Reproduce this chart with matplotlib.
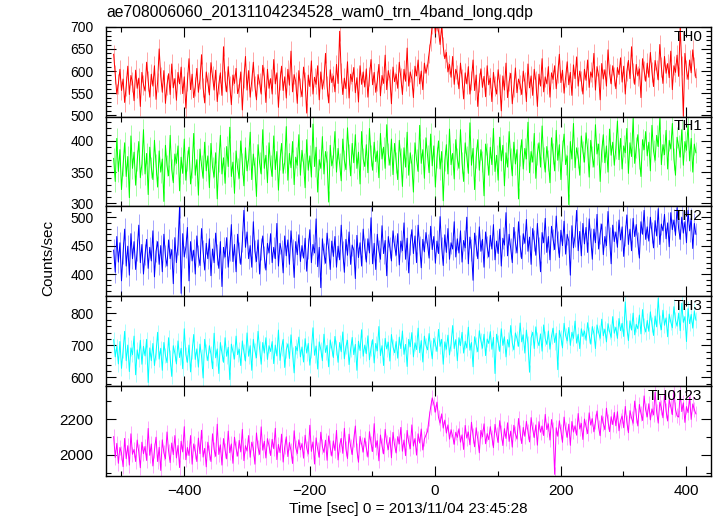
import numpy as np
import matplotlib
matplotlib.use("Agg")
import matplotlib.pyplot as plt
from matplotlib.ticker import MultipleLocator

plt.rcParams['font.family'] = ['Liberation Sans', 'DejaVu Sans']

TITLE = "ae708006060_20131104234528_wam0_trn_4band_long.qdp"
XLABEL = "Time [sec] 0 = 2013/11/04 23:45:28"
YLABEL = "Counts/sec"

# time bins (sec), 2.5 s apart
time = np.arange(-512, 416, 2.5)

th0 = [638, 592, 548, 571, 604, 556, 582, 529, 566, 611, 547, 590, 575, 533, 602, 561, 584, 520, 597, 569,
       555, 620, 578, 541, 593, 566, 612, 536, 574, 650, 588, 552, 601, 527, 569, 594, 547, 616, 562, 583,
       534, 597, 571, 609, 549, 587, 516, 576, 628, 558, 593, 540, 565, 606, 552, 581, 637, 563, 528, 598,
       575, 546, 619, 589, 557, 602, 531, 570, 596, 545, 655, 578, 553, 610, 566, 524, 591, 572, 606, 549,
       563, 598, 512, 584, 633, 557, 601, 541, 578, 620, 566, 535, 592, 574, 548, 613, 587, 529, 604, 561,
       583, 548, 626, 571, 596, 518, 579, 611, 556, 587, 539, 604, 568, 645, 553, 592, 576, 527, 601, 563,
       542, 609, 577, 505, 591, 565, 623, 548, 586, 570, 612, 535, 598, 559, 581, 640, 566, 528, 603, 574,
       589, 553, 615, 572, 690, 596, 547, 584, 560, 621, 539, 593, 576, 608, 551, 585, 530, 612, 570, 598,
       564, 605, 541, 588, 626, 569, 597, 552, 578, 615, 544, 590, 572, 636, 558, 601, 583, 526, 609, 576,
       593, 561, 620, 585, 547, 604, 577, 652, 566, 598, 582, 540, 611, 589, 625, 571, 600, 558, 618, 595,
       612, 640, 668, 705, 730, 685, 712, 690, 660, 702, 655, 628, 642, 598, 615, 586, 633, 570, 604, 592,
       560, 618, 583, 537, 596, 571, 610, 548, 579, 625, 556, 591, 520, 574, 605, 563, 588, 542, 612, 569,
       584, 531, 597, 566, 548, 603, 572, 510, 589, 557, 618, 540, 576, 595, 526, 563, 607, 551, 582, 569,
       547, 600, 575, 531, 616, 562, 589, 545, 604, 578, 520, 593, 566, 628, 553, 587, 571, 610, 541, 596,
       581, 612, 560, 595, 638, 574, 602, 550, 586, 621, 569, 597, 545, 614, 583, 632, 566, 600, 578, 548,
       604, 579, 625, 563, 598, 586, 640, 557, 610, 591, 535, 617, 582, 603, 566, 648, 594, 571, 612, 588,
       560, 608, 592, 630, 575, 611, 548, 599, 624, 583, 655, 596, 570, 615, 589, 605, 540, 628, 601, 577,
       618, 586, 642, 598, 565, 624, 603, 580, 660, 609, 572, 633, 595, 617, 585, 645, 558, 612, 597, 636,
       588, 700, 612, 498, 640, 603, 581, 625, 596, 648, 610, 585]

th1 = [372, 335, 404, 351, 386, 322, 361, 397, 343, 375, 309, 408, 356, 382, 329, 368, 399, 341, 363, 418,
       347, 380, 314, 390, 357, 338, 401, 362, 326, 384, 350, 371, 303, 393, 360, 344, 409, 354, 333, 379,
       364, 392, 320, 374, 348, 403, 337, 369, 390, 331, 357, 412, 345, 370, 313, 387, 361, 340, 398, 352,
       376, 325, 396, 358, 342, 381, 307, 367, 409, 347, 373, 332, 391, 359, 422, 343, 366, 316, 384, 356,
       340, 400, 363, 328, 389, 352, 371, 414, 338, 379, 357, 311, 394, 365, 347, 418, 356, 377, 333, 397,
       361, 343, 408, 354, 383, 321, 370, 396, 348, 366, 423, 337, 380, 357, 399, 330, 374, 361, 410, 345,
       385, 364, 325, 402, 353, 376, 342, 427, 359, 390, 318, 370, 356, 407, 347, 383, 367, 302, 393, 360,
       373, 415, 350, 388, 363, 336, 403, 369, 354, 421, 378, 344, 396, 365, 410, 356, 382, 331, 415, 371,
       359, 394, 349, 420, 377, 353, 398, 367, 384, 341, 412, 371, 390, 356, 426, 379, 361, 403, 346, 396,
       366, 338, 401, 372, 327, 389, 358, 414, 345, 381, 362, 318, 397, 370, 351, 425, 364, 386, 340, 405,
       377, 349, 411, 360, 392, 326, 373, 400, 355, 383, 304, 368, 394, 347, 419, 362, 380, 339, 402, 371,
       356, 418, 365, 335, 397, 375, 348, 429, 361, 388, 322, 374, 402, 353, 386, 367, 312, 395, 379, 345,
       390, 362, 420, 351, 377, 337, 406, 368, 393, 328, 381, 358, 415, 372, 344, 398, 363, 386, 307, 376,
       402, 355, 388, 371, 430, 349, 383, 366, 412, 340, 379, 397, 358, 424, 373, 350, 391, 368, 333, 405,
       380, 352, 417, 369, 394, 338, 385, 411, 362, 376, 298, 399, 371, 428, 357, 389, 374, 345, 408, 383,
       366, 413, 387, 342, 401, 375, 358, 426, 379, 395, 335, 384, 410, 365, 392, 350, 419, 377, 398, 361,
       388, 432, 370, 404, 355, 392, 381, 420, 348, 397, 375, 436, 364, 389, 410, 372, 343, 402, 386, 415,
       376, 398, 352, 425, 384, 369, 409, 391, 436, 362, 394, 378, 417, 355, 401, 387, 428, 371, 345, 406,
       392, 374, 418, 361, 399, 385, 426, 368, 404, 350, 395, 381]

th2 = [442, 403, 466, 421, 455, 388, 437, 479, 414, 449, 398, 471, 427, 457, 408, 442, 486, 420, 452, 400,
       434, 461, 410, 447, 423, 476, 395, 440, 457, 417, 450, 404, 470, 432, 414, 460, 427, 443, 383, 464,
       420, 452, 518, 366, 471, 430, 447, 482, 388, 457, 423, 442, 400, 467, 432, 415, 480, 440, 407, 454,
       427, 462, 397, 444, 420, 472, 434, 410, 457, 378, 447, 430, 464, 412, 442, 487, 422, 452, 404, 470,
       438, 417, 457, 512, 447, 474, 427, 450, 412, 492, 440, 422, 460, 400, 444, 467, 430, 407, 454, 437,
       471, 420, 447, 427, 489, 414, 454, 440, 402, 467, 432, 460, 417, 476, 442, 394, 457, 434, 469, 422,
       450, 428, 463, 405, 445, 478, 420, 452, 437, 497, 413, 447, 376, 462, 436, 419, 472, 444, 408, 458,
       431, 466, 412, 449, 425, 486, 439, 403, 461, 433, 474, 417, 451, 442, 392, 468, 429, 455, 414, 479,
       445, 421, 462, 437, 499, 418, 454, 408, 470, 441, 426, 485, 436, 459, 397, 466, 447, 423, 476, 450,
       433, 471, 416, 458, 441, 490, 426, 463, 402, 452, 478, 436, 467, 420, 486, 448, 411, 461, 439, 473,
       452, 428, 484, 443, 466, 419, 458, 436, 501, 447, 415, 469, 438, 480, 426, 455, 444, 492, 430, 462,
       437, 476, 421, 459, 446, 500, 418, 465, 442, 389, 472, 450, 427, 483, 440, 461, 412, 474, 448, 430,
       468, 444, 487, 425, 458, 436, 479, 414, 463, 451, 508, 432, 470, 445, 420, 482, 456, 437, 492, 449,
       427, 471, 454, 496, 440, 465, 417, 480, 459, 433, 489, 447, 404, 473, 455, 498, 438, 466, 425, 484,
       461, 443, 502, 456, 429, 477, 450, 493, 435, 470, 458, 398, 485, 446, 467, 512, 441, 475, 432, 489,
       453, 482, 438, 497, 462, 426, 479, 455, 505, 444, 471, 488, 434, 466, 450, 510, 463, 418, 486, 457,
       474, 447, 495, 460, 483, 431, 468, 504, 452, 479, 441, 498, 466, 487, 455, 428, 492, 470, 512, 461,
       483, 458, 500, 473, 446, 494, 467, 515, 452, 488, 476, 505, 462, 490, 448, 508, 478, 495, 468, 517,
       480, 461, 500, 472, 492, 455, 512, 476, 498, 445, 489, 470]

th3 = [718, 664, 697, 642, 712, 628, 683, 744, 652, 701, 618, 692, 671, 729, 608, 686, 657, 716, 641, 697,
       667, 719, 584, 692, 652, 706, 637, 677, 741, 657, 691, 622, 709, 669, 646, 724, 661, 603, 699, 676,
       642, 714, 662, 691, 627, 752, 671, 647, 701, 617, 681, 734, 656, 689, 632, 704, 666, 598, 719, 679,
       652, 699, 673, 627, 738, 661, 689, 612, 709, 676, 647, 724, 666, 694, 593, 704, 681, 657, 729, 671,
       688, 637, 714, 679, 651, 739, 666, 699, 622, 719, 684, 661, 744, 689, 641, 709, 676, 724, 656, 699,
       681, 712, 643, 701, 667, 748, 653, 692, 719, 631, 686, 705, 659, 733, 672, 614, 697, 683, 726, 664,
       695, 648, 721, 676, 706, 638, 684, 755, 669, 698, 626, 711, 687, 652, 735, 678, 700, 633, 717, 690,
       662, 728, 693, 647, 709, 680, 742, 658, 697, 716, 640, 688, 725, 671, 703, 622, 713, 684, 749, 666,
       701, 674, 730, 655, 692, 718, 645, 706, 683, 759, 668, 699, 637, 722, 689, 710, 651, 734, 695, 677,
       712, 660, 726, 690, 745, 672, 703, 634, 719, 696, 740, 664, 708, 687, 754, 677, 715, 648, 729, 700,
       686, 737, 694, 658, 722, 705, 681, 750, 697, 719, 641, 711, 688, 732, 670, 705, 762, 690, 718, 652,
       724, 699, 741, 676, 713, 692, 757, 685, 709, 633, 727, 702, 680, 746, 714, 691, 735, 668, 720, 706,
       743, 688, 725, 612, 735, 710, 681, 752, 700, 727, 664, 718, 695, 762, 708, 686, 739, 721, 697, 770,
       711, 733, 676, 748, 705, 616, 724, 741, 690, 758, 717, 699, 736, 682, 764, 721, 703, 745, 688, 729,
       754, 709, 738, 624, 747, 725, 692, 769, 731, 714, 756, 700, 741, 722, 776, 707, 735, 690, 752, 728,
       745, 716, 771, 733, 704, 759, 737, 690, 764, 741, 722, 782, 730, 751, 711, 768, 743, 725, 790, 738,
       757, 722, 784, 746, 769, 728, 836, 755, 715, 777, 748, 801, 733, 766, 752, 795, 736, 812, 761, 742,
       778, 744, 805, 766, 731, 792, 758, 848, 771, 749, 810, 763, 786, 727, 798, 773, 755, 821, 779, 760,
       801, 746, 832, 772, 790, 712, 815, 768, 797, 754, 808, 779]

th0123 = [2102, 1985, 2064, 1952, 2041, 2010, 1933, 2092, 1978, 2051, 1942, 2118, 2003, 2030, 1962, 2083, 2016, 1927, 2071, 2006,
          2047, 1968, 2148, 1997, 2061, 1937, 2026, 2099, 1962, 2042, 1912, 2084, 2011, 1977, 2128, 2021, 1956, 2066, 2001, 2108,
          1982, 2052, 1928, 2076, 2016, 2158, 1972, 2041, 1996, 2108, 1947, 2061, 2021, 1962, 2094, 2006, 2138, 1987, 2036, 1932,
          2071, 2011, 1962, 2118, 2031, 1991, 2172, 2002, 2056, 1942, 2091, 2026, 1977, 2133, 2011, 2061, 1952, 2099, 2036, 1992,
          2081, 2016, 2143, 1967, 2051, 2021, 2108, 1986, 2071, 2036, 1947, 2123, 2041, 2002, 2157, 2026, 2076, 1982, 2091, 2051,
          1996, 2087, 2034, 2149, 1973, 2058, 2012, 2116, 1959, 2044, 2101, 1990, 2069, 2023, 1951, 2135, 2040, 2007, 2084, 2028,
          2063, 1981, 2110, 2037, 2004, 2166, 2019, 2072, 1948, 2095, 2031, 1986, 2127, 2046, 2013, 2082, 1969, 2106, 2040, 1993,
          2078, 2024, 2137, 1971, 2055, 2092, 2008, 2149, 2033, 1979, 2116, 2047, 2001, 2088, 2162, 2026, 1958, 2103, 2059, 2015,
          2094, 2037, 1987, 2130, 2064, 2018, 2175, 2042, 2079, 1966, 2111, 2050, 2005, 2143, 2068, 2029, 2097, 1983, 2126, 2055,
          2010, 2102, 2061, 2154, 2020, 2083, 1995, 2137, 2072, 2034, 2168, 2049, 2091, 1998, 2118, 2066, 2145, 2027, 2089, 2110,
          2132, 2205, 2268, 2320, 2285, 2240, 2296, 2210, 2178, 2230, 2150, 2195, 2122, 2168, 2088, 2141, 2105, 2059, 2127, 2098,
          2146, 2071, 2112, 2030, 2165, 2094, 2128, 2056, 2183, 2107, 2045, 2152, 2090, 2011, 2137, 2101, 2174, 2062, 2119, 2085,
          2158, 2099, 2040, 2171, 2113, 2069, 2192, 2124, 2052, 2147, 2092, 2180, 2075, 2133, 2043, 2166, 2118, 2088, 2204, 2125,
          2063, 2154, 2104, 2188, 2131, 2072, 2209, 2143, 2097, 2168, 2054, 2186, 2127, 2161, 2108, 2227, 2142, 2174, 2083, 2198,
          2140, 1890, 2152, 2104, 2191, 2133, 2070, 2212, 2144, 2098, 2172, 2053, 2187, 2128, 2163, 2110, 2232, 2145, 2176, 2086,
          2201, 2158, 2119, 2236, 2167, 2203, 2129, 2185, 2246, 2154, 2107, 2219, 2176, 2141, 2262, 2188, 2130, 2214, 2170, 2238,
          2163, 2242, 2135, 2193, 2218, 2152, 2272, 2184, 2124, 2248, 2207, 2177, 2302, 2222, 2162, 2283, 2232, 2193, 2331, 2252,
          2213, 2287, 2196, 2258, 2224, 2352, 2241, 2178, 2296, 2265, 2208, 2338, 2247, 2190, 2311, 2270, 2226, 2360, 2255, 2219,
          2212, 2348, 2243, 2292, 2182, 2271, 2237, 2324, 2199, 2286, 2255, 2230]

# rough 1-sigma error bar per band (counts/sec)
errs = [22, 17, 19, 24, 42]

series = [th0, th1, th2, th3, th0123]
names = ["TH0", "TH1", "TH2", "TH3", "TH0123"]
colours = ["#ff0000", "#00ff00", "#0000ff", "#00ffff", "#ff00ff"]
ylims = [(497, 700), (295, 439), (361, 519), (573, 854), (1882, 2387)]
# (major, minor) y tick spacing per panel
yticks = [(50, 10), (50, 10), (50, 10), (100, 20), (200, 100)]
ylabsize = [10, 10, 10, 10, 11]

for y in series:
    assert len(y) == len(time), len(y)

fig, axes = plt.subplots(5, 1, sharex=True, figsize=(7.17, 5.16), dpi=100)
fig.subplots_adjust(left=0.148, right=0.992, top=0.948, bottom=0.078, hspace=0)

for ax, y, e, name, c, lim, (maj, mnr), fs in zip(axes, series, errs, names, colours, ylims, yticks, ylabsize):
    ax.errorbar(time, y, yerr=e, fmt="none", ecolor=c, elinewidth=0.7, alpha=0.35)
    ax.plot(time, y, color=c, lw=0.7)
    ax.set_xlim(-524, 440)
    ax.set_ylim(*lim)
    ax.xaxis.set_major_locator(MultipleLocator(200))
    ax.xaxis.set_minor_locator(MultipleLocator(100))
    ax.yaxis.set_major_locator(MultipleLocator(maj))
    ax.yaxis.set_minor_locator(MultipleLocator(mnr))
    ax.tick_params(which="both", direction="in", top=True, right=True, width=0.8)
    ax.tick_params(axis="y", labelsize=fs, pad=9)
    ax.tick_params(axis="x", labelsize=11, pad=6)
    ax.tick_params(which="major", length=7)
    ax.tick_params(which="minor", length=3.5)
    for s in ax.spines.values():
        s.set_linewidth(1.0)
    ax.text(0.985, 0.97, name, transform=ax.transAxes, ha="right", va="top", fontsize=11)

axes[-1].set_xlabel(XLABEL, fontsize=11, labelpad=3)
fig.text(0.067, 0.5, YLABEL, rotation=90, ha="center", va="center", fontsize=11)
fig.text(0.148, 0.975, TITLE, ha="left", va="center", fontsize=11.3)

fig.savefig("out.png", dpi=100)
